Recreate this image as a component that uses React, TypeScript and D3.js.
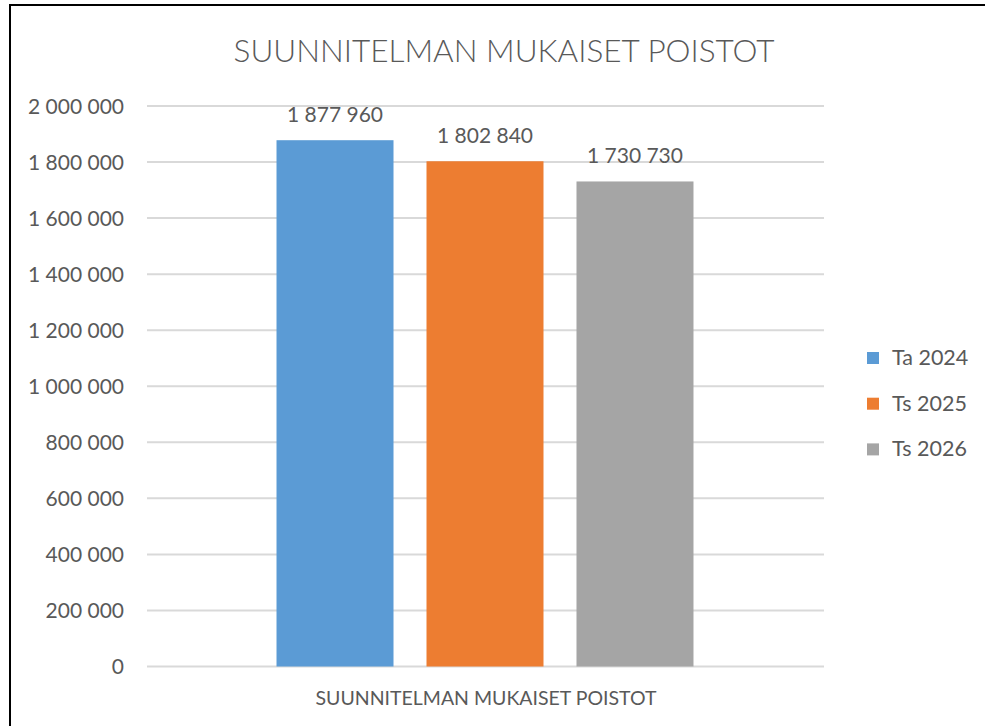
import React from "react";
import * as d3 from "d3";

const title = "SUUNNITELMAN MUKAISET POISTOT";
const category = "SUUNNITELMAN MUKAISET POISTOT";
const seriesNames = ["Ta 2024", "Ts 2025", "Ts 2026"];
const seriesValues = [1877960, 1802840, 1730730];
const seriesColors = ["#5B9BD5", "#ED7D31", "#A5A5A5"];
const yTicks = [0, 200000, 400000, 600000, 800000, 1000000, 1200000, 1400000, 1600000, 1800000, 2000000];

const W = 985;
const H = 726;
const FONT = "Lato, 'Open Sans', sans-serif";
const TEXT = "#595959";

const fmt = (v: number) => {
  const s = Math.round(v).toString();
  return s.replace(/\B(?=(\d{3})+(?!\d))/g, " ");
};

export default function App() {
  const y = d3.scaleLinear().domain([0, 2000000]).range([666.5, 106]);
  const xCat = d3.scaleBand<string>().domain([category]).range([147, 823]).paddingInner(0).paddingOuter(0.3106);
  const xSer = d3
    .scaleBand<string>()
    .domain(seriesNames)
    .range([xCat(category)!, xCat(category)! + xCat.bandwidth()])
    .paddingInner(0.22)
    .paddingOuter(0);

  return (
    <svg
      width={W}
      height={H}
      style={{ position: "absolute", left: 0, top: 0, background: "#fff" }}
      fontFamily={FONT}
    >
      <rect x={0} y={0} width={W} height={H} fill="#fff" />
      <rect x={10} y={5} width={W + 20} height={H + 20} fill="none" stroke="#000" strokeWidth={2} />
      <text x={504} y={62} textAnchor="middle" fontSize={31.5} fontWeight={300} fill={TEXT}>
        {title}
      </text>
      {yTicks.map((t) => (
        <g key={t}>
          <line x1={147} x2={824} y1={y(t)} y2={y(t)} stroke="#D9D9D9" strokeWidth={2} />
          <text x={124} y={y(t)} dy="0.36em" textAnchor="end" fontSize={21} fill={TEXT}>
            {fmt(t)}
          </text>
        </g>
      ))}
      {seriesNames.map((s, i) => (
        <g key={s}>
          <rect
            x={xSer(s)}
            y={y(seriesValues[i])}
            width={xSer.bandwidth()}
            height={y(0) - y(seriesValues[i])}
            fill={seriesColors[i]}
          />
          <text
            x={xSer(s)! + xSer.bandwidth() / 2}
            y={y(seriesValues[i]) - 18}
            textAnchor="middle"
            fontSize={21}
            fill={TEXT}
          >
            {fmt(seriesValues[i])}
          </text>
        </g>
      ))}
      <text x={486} y={705} textAnchor="middle" fontSize={19.5} fill={TEXT}>
        {category}
      </text>
      {seriesNames.map((s, i) => (
        <g key={"lg" + s} transform={`translate(867, ${352 + i * 45.7})`}>
          <rect x={0} y={0} width={12} height={12} fill={seriesColors[i]} />
          <text x={25} y={13} fontSize={21.5} fill={TEXT}>
            {s}
          </text>
        </g>
      ))}
    </svg>
  );
}
